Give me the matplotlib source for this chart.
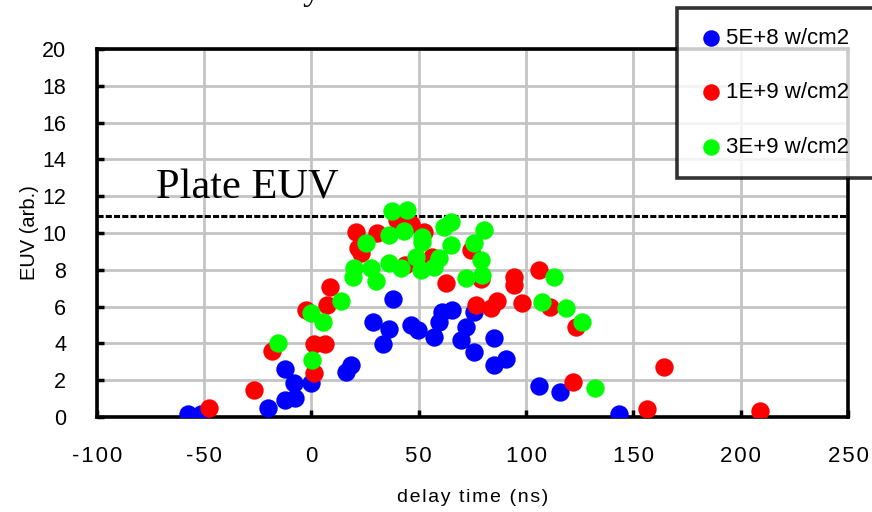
import matplotlib
matplotlib.use("Agg")
import matplotlib.pyplot as plt
from matplotlib.ticker import FuncFormatter

# ---- data (delay time ns, EUV arb.) ----
blue_x = [-57.6, -51.4, -20.4, -12.5, -12.5, -8.0, -7.7, 0.0, 16.0, 18.4, 28.5, 33.6,
          36.2, 38.2, 46.3, 49.7, 57.1, 59.4, 61.0, 65.7, 69.5, 71.9, 75.7, 75.7, 85.0,
          85.0, 90.5, 106.0, 115.7, 143.2]
blue_y = [0.15, 0.15, 0.47, 2.59, 0.92, 1.83, 1.05, 1.83, 2.46, 2.83, 5.15, 3.97,
          4.77, 6.40, 5.00, 4.75, 4.36, 5.18, 5.72, 5.82, 4.18, 4.91, 3.55, 5.72, 4.28,
          2.83, 3.15, 1.68, 1.38, 0.16]

red_x = [-47.5, -26.6, -18.5, -2.7, 1.0, 1.0, 6.3, 7.5, 8.5, 20.7, 21.5, 23.0, 30.8,
         40.1, 43.5, 46.3, 52.5, 56.4, 62.6, 74.2, 78.8, 76.5, 83.5, 86.6, 94.3, 94.3,
         98.2, 106.0, 111.4, 123.5, 122.0, 156.4, 164.1, 209.1]
red_y = [0.47, 1.47, 3.60, 5.80, 2.37, 3.97, 3.97, 6.10, 7.05, 10.07, 9.17, 8.90, 9.98,
         10.70, 8.26, 10.50, 10.07, 8.71, 7.30, 9.10, 7.50, 6.09, 5.90, 6.30, 7.62, 7.17,
         6.20, 8.00, 6.00, 4.88, 1.88, 0.43, 2.70, 0.34]

green_x = [-15.7, 0.1, -0.2, 5.4, 13.8, 19.9, 19.4, 25.3, 27.7, 30.0, 37.8, 44.7, 36.2,
           43.2, 36.2, 41.6, 48.6, 50.9, 51.7, 51.7, 57.1, 59.4, 61.8, 64.9, 64.9, 71.9,
           75.7, 78.8, 79.6, 80.4, 107.5, 112.9, 118.4, 126.1, 132.3]
green_y = [4.00, 3.10, 5.64, 5.18, 6.30, 8.10, 7.60, 9.44, 8.08, 7.40, 11.22, 11.25, 9.89,
           10.10, 8.35, 8.08, 8.71, 8.00, 9.80, 9.53, 8.17, 8.62, 10.34, 10.60, 9.35, 7.54,
           9.44, 8.53, 7.72, 10.16, 6.27, 7.62, 5.90, 5.18, 1.56]

series_labels = ["5E+8 w/cm2", "1E+9 w/cm2", "3E+9 w/cm2"]
plate_level = 10.95
x_ticks = [-100, -50, 0, 50, 100, 150, 200, 250]
y_ticks = [0, 2, 4, 6, 8, 10, 12, 14, 16, 18, 20]

sans = ["Liberation Sans", "DejaVu Sans"]
serif = ["Liberation Serif", "DejaVu Serif"]
HS = "\u200a"  # hair space for the wide Excel-like letter spacing

fig = plt.figure(figsize=(8.72, 5.12), dpi=100)
ax = fig.add_axes([96.7 / 872, 1 - 417 / 512, (848 - 96.7) / 872, (417 - 49) / 512])

ms = 175
ax.scatter(blue_x, blue_y, s=ms, color="#0000ff", lw=0, zorder=3, label=series_labels[0])
ax.scatter(red_x, red_y, s=ms, color="#ff0000", lw=0, zorder=4, label=series_labels[1])
ax.scatter(green_x, green_y, s=ms, color="#00ff00", lw=0, zorder=5, label=series_labels[2])

ax.axhline(plate_level, color="black", lw=2.2, ls=(0, (2.0, 0.7)), zorder=2)
ax.text(-72.5, 11.85, "Plate EUV", family=serif, fontsize=30.5,
        ha="left", va="baseline", zorder=6)

ax.set_xlim(-100, 250)
ax.set_ylim(0, 20)
ax.set_xticks(x_ticks)
ax.set_yticks(y_ticks)
ax.xaxis.set_major_formatter(FuncFormatter(lambda v, p: HS.join(str(int(v)))))
ax.grid(True, color="#c4c4c4", lw=2)
ax.set_axisbelow(True)

for s in ax.spines.values():
    s.set_linewidth(2.6)
    s.set_color("black")
ax.tick_params(axis="both", direction="in", length=5, width=2.5, color="black")
ax.tick_params(axis="x", pad=21)
ax.tick_params(axis="y", pad=22)
for lab in ax.get_xticklabels():
    lab.set_family(sans)
    lab.set_fontsize(16)
for lab in ax.get_yticklabels():
    lab.set_family(sans)
    lab.set_fontsize(15.5)

ax.set_xlabel(HS.join("delay time (ns)"), family=sans, fontsize=14, labelpad=16)
ax.set_ylabel("EUV (arb.)", family=sans, fontsize=14.5, labelpad=2)

leg = ax.legend(loc="upper left", bbox_to_anchor=(677 / 872, 0.5, 0.28, 0.5 - 8 / 512),
                bbox_transform=fig.transFigure, mode="expand", frameon=True,
                fancybox=False, borderpad=0.9, labelspacing=1.5, handletextpad=0.05,
                handlelength=1.27, borderaxespad=0, markerscale=0.9,
                prop={"family": sans, "size": 16})
leg.get_frame().set_edgecolor("black")
leg.get_frame().set_linewidth(2.6)
leg.set_zorder(10)

fig.text(312 / 872, 1.0 + 1 / 512, "y", family=serif, fontsize=26, ha="center", va="baseline")

fig.savefig("out.png", dpi=100)
